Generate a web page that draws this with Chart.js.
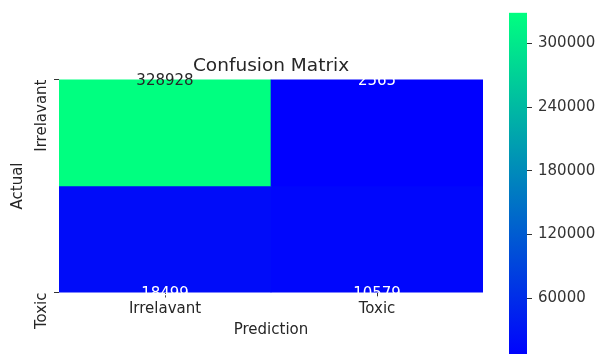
<!DOCTYPE html>
<html>
<head>
<meta charset="utf-8">
<script src="https://cdn.jsdelivr.net/npm/chart.js@4"></script>
<style>
  html, body { margin: 0; padding: 0; background: #fff; overflow: hidden; width: 600px; height: 354px; }
  #wrap { position: relative; width: 600px; height: 354px; }
  #heat { position: absolute; left: 0; top: 0; }
  #cbar { position: absolute; left: 490px; top: 0; }
</style>
</head>
<body>
<div id="wrap">
  <canvas id="heat" width="542" height="354"></canvas>
  <canvas id="cbar" width="110" height="370"></canvas>
</div>
<script>
// Confusion matrix counts, one array per actual class (columns = predicted class)
const predictedLabels = ['Irrelavant', 'Toxic'];
const actualLabels = ['Irrelavant', 'Toxic'];
const countsIrrelavant = [328928, 2565];
const countsToxic = [18499, 10579];
const colorbarTicks = [60000, 120000, 180000, 240000, 300000];

const rows = [countsIrrelavant, countsToxic];
const allCounts = rows.flat();
const vmin = Math.min(...allCounts);
const vmax = Math.max(...allCounts);

const FONT = 'DejaVu Sans';
const TEXT = '#262626';

// "winter" colormap: green rises 0 -> 1, blue falls 1 -> 0.5
function winter(v) {
  const t = (v - vmin) / (vmax - vmin);
  return `rgb(0,${Math.round(255 * t)},${Math.round(255 * (1 - 0.5 * t))})`;
}

// Count labels written at each cell centre
const cellText = {
  id: 'cellText',
  afterDatasetsDraw(chart) {
    const { ctx, scales: { x, y } } = chart;
    ctx.save();
    ctx.font = `15px "${FONT}"`;
    ctx.textAlign = 'center';
    ctx.textBaseline = 'alphabetic';
    rows.forEach((vals, r) => {
      vals.forEach((v, c) => {
        const t = (v - vmin) / (vmax - vmin);
        ctx.fillStyle = t > 0.5 ? TEXT : '#ffffff';
        ctx.fillText(String(v), x.getPixelForValue(c), y.getPixelForValue(r) + 5);
      });
    });
    ctx.restore();
  }
};

// Row labels along the left axis, rotated to read bottom-to-top
const rowLabels = {
  id: 'rowLabels',
  afterDraw(chart) {
    const { ctx, scales: { y } } = chart;
    ctx.save();
    ctx.font = `15px "${FONT}"`;
    ctx.fillStyle = TEXT;
    ctx.textAlign = 'right';
    ctx.textBaseline = 'alphabetic';
    actualLabels.forEach((label, i) => {
      ctx.save();
      ctx.translate(y.left + 46, y.getPixelForValue(i));
      ctx.rotate(-Math.PI / 2);
      ctx.fillText(label, 0, 0);
      ctx.restore();
    });
    ctx.restore();
  }
};

new Chart(document.getElementById('heat'), {
  type: 'bar',
  data: {
    labels: predictedLabels,
    datasets: rows.map((vals, r) => ({
      label: actualLabels[r],
      data: vals.map(() => [r - 0.5, r + 0.5]),
      backgroundColor: vals.map(winter),
      borderWidth: 0,
      categoryPercentage: 1,
      barPercentage: 1,
      grouped: false,
      clip: 0
    }))
  },
  options: {
    responsive: false,
    animation: false,
    devicePixelRatio: 1,
    layout: { padding: 0 },
    plugins: {
      legend: { display: false },
      tooltip: { enabled: false },
      title: {
        display: true,
        text: 'Confusion Matrix',
        color: TEXT,
        font: { family: FONT, size: 18.5, weight: 'normal' },
        padding: { top: 55.5, bottom: 1.8 }
      }
    },
    scales: {
      x: {
        type: 'category',
        offset: true,
        grid: { display: true, offset: false, drawOnChartArea: false, drawTicks: true, tickLength: 5, tickColor: '#333' },
        border: { display: false },
        ticks: { color: TEXT, font: { family: FONT, size: 15 }, padding: 3, maxRotation: 0 },
        title: {
          display: true, text: 'Prediction', color: TEXT,
          font: { family: FONT, size: 15 }, padding: { top: 0, bottom: 15 }
        },
        afterFit(s) { s.height = 61.5; s.paddingLeft = 0; s.paddingRight = 0; }
      },
      y: {
        type: 'linear',
        reverse: true,
        min: 0,
        max: 1,
        afterBuildTicks(s) { s.ticks = actualLabels.map((_, i) => ({ value: i })); },
        grid: { display: true, drawOnChartArea: false, drawTicks: true, tickLength: 5, tickColor: '#333' },
        border: { display: false },
        ticks: { display: false },
        title: {
          display: true, text: 'Actual', color: TEXT,
          font: { family: FONT, size: 15 }, padding: { top: 9, bottom: 0 }
        },
        afterFit(s) { s.width = 59; s.paddingTop = 0; s.paddingBottom = 0; }
      },
      // empty right-hand axis that keeps the plot centred under the title
      yRight: {
        type: 'linear',
        position: 'right',
        min: 0,
        max: 1,
        grid: { display: false },
        border: { display: false },
        ticks: { display: false },
        afterFit(s) { s.width = 59; s.paddingTop = 0; s.paddingBottom = 0; }
      }
    }
  },
  plugins: [cellText, rowLabels]
});

// Colour bar: one floating bar spanning the value range, filled with the colormap
new Chart(document.getElementById('cbar'), {
  type: 'bar',
  data: {
    labels: [''],
    datasets: [{
      data: [[vmin, vmax]],
      backgroundColor(ctx) {
        const ch = ctx.chart;
        const yS = ch.scales.y;
        if (!ch.chartArea || !yS) return winter(vmin);
        const g = ch.ctx.createLinearGradient(0, yS.getPixelForValue(vmin), 0, yS.getPixelForValue(vmax));
        g.addColorStop(0, winter(vmin));
        g.addColorStop(1, winter(vmax));
        return g;
      },
      borderWidth: 0,
      categoryPercentage: 1,
      barPercentage: 1,
      clip: 0
    }]
  },
  options: {
    responsive: false,
    animation: false,
    devicePixelRatio: 1,
    layout: { padding: { left: 19, right: 0, top: 12.7, bottom: 11 } },
    plugins: { legend: { display: false }, tooltip: { enabled: false } },
    scales: {
      x: { display: false },
      y: {
        position: 'right',
        min: vmin,
        max: vmax,
        afterBuildTicks(s) { s.ticks = colorbarTicks.map((v) => ({ value: v })); },
        grid: { display: true, drawOnChartArea: false, drawTicks: true, tickLength: 5, tickColor: '#333' },
        border: { display: false },
        ticks: { color: '#333', font: { family: FONT, size: 15 }, padding: 6, callback: (v) => String(v) },
        afterFit(s) { s.width = 73; s.paddingTop = 0; s.paddingBottom = 0; }
      }
    }
  }
});
</script>
</body>
</html>
